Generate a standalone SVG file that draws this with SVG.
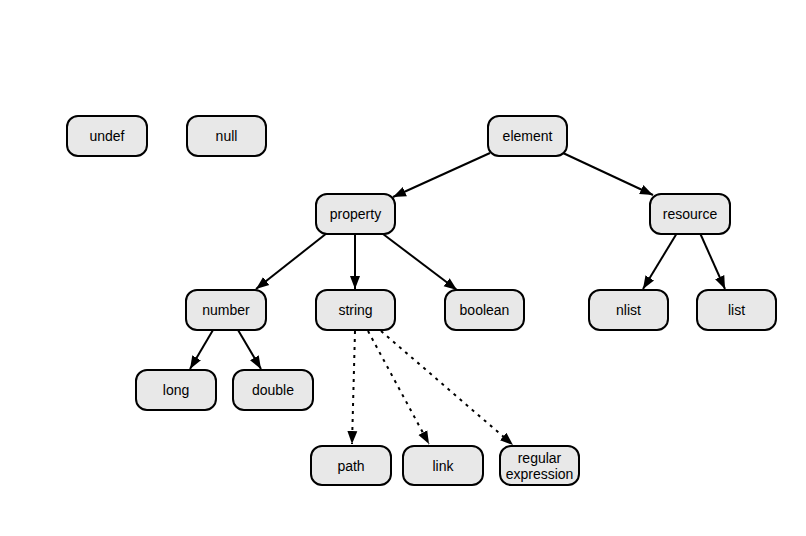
<svg xmlns="http://www.w3.org/2000/svg" width="806" height="536" viewBox="0 0 806 536">
<style>
.n rect{fill:#e8e8e8;stroke:#000;stroke-width:2}
.n text{font-family:"Liberation Sans",Arial,sans-serif;font-size:14px;fill:#000;text-anchor:middle}
.e line{stroke:#000;stroke-width:2;fill:none}
.e .d{stroke-dasharray:3,5}
</style>
<defs>
<marker id="ah" markerUnits="userSpaceOnUse" markerWidth="14" markerHeight="12" viewBox="0 0 14 12" refX="13" refY="6" orient="auto">
<path d="M0,1 L13,6 L0,11 z" fill="#000"/>
</marker>
</defs>
<rect width="806" height="536" fill="#fff"/>
<g class="e" marker-end="url(#ah)">
<line x1="490" y1="153" x2="393" y2="197" marker-end="url(#ah)"/>
<line x1="563" y1="153" x2="653" y2="195" marker-end="url(#ah)"/>
<line x1="327" y1="233" x2="256" y2="289" marker-end="url(#ah)"/>
<line x1="355" y1="234" x2="355" y2="289" marker-end="url(#ah)"/>
<line x1="383" y1="234" x2="457" y2="290" marker-end="url(#ah)"/>
<line x1="677" y1="233" x2="643" y2="289" marker-end="url(#ah)"/>
<line x1="700" y1="233" x2="725" y2="289" marker-end="url(#ah)"/>
<line x1="213" y1="330" x2="190" y2="369" marker-end="url(#ah)"/>
<line x1="238" y1="330" x2="261" y2="369" marker-end="url(#ah)"/>
<line class="d" x1="355" y1="331" x2="352" y2="444" marker-end="url(#ah)"/>
<line class="d" x1="368" y1="331" x2="429" y2="444" marker-end="url(#ah)"/>
<line class="d" x1="381" y1="331" x2="513" y2="445" marker-end="url(#ah)"/>
</g>
<g id="undef" class="n"><rect x="67" y="116" width="80" height="40" rx="11"/><text x="107" y="141">undef</text></g>
<g id="null" class="n"><rect x="187" y="116" width="79" height="40" rx="11"/><text x="226.5" y="141">null</text></g>
<g id="element" class="n"><rect x="488" y="116" width="79" height="40" rx="11"/><text x="527.5" y="141">element</text></g>
<g id="property" class="n"><rect x="316" y="194" width="79" height="40" rx="11"/><text x="355.5" y="219">property</text></g>
<g id="resource" class="n"><rect x="650" y="194" width="80" height="40" rx="11"/><text x="690" y="219">resource</text></g>
<g id="number" class="n"><rect x="186" y="290" width="80" height="40" rx="11"/><text x="226" y="315">number</text></g>
<g id="string" class="n"><rect x="316" y="290" width="79" height="40" rx="11"/><text x="355.5" y="315">string</text></g>
<g id="boolean" class="n"><rect x="445" y="290" width="79" height="40" rx="11"/><text x="484.5" y="315">boolean</text></g>
<g id="nlist" class="n"><rect x="589" y="290" width="79" height="40" rx="11"/><text x="628.5" y="315">nlist</text></g>
<g id="list" class="n"><rect x="697" y="290" width="79" height="40" rx="11"/><text x="736.5" y="315">list</text></g>
<g id="long" class="n"><rect x="136" y="370" width="80" height="40" rx="11"/><text x="176" y="395">long</text></g>
<g id="double" class="n"><rect x="233" y="370" width="80" height="40" rx="11"/><text x="273" y="395">double</text></g>
<g id="path" class="n"><rect x="311" y="446" width="80" height="39" rx="11"/><text x="351" y="471">path</text></g>
<g id="link" class="n"><rect x="403" y="446" width="80" height="39" rx="11"/><text x="443" y="471">link</text></g>
<g id="regex" class="n"><rect x="500" y="446" width="79" height="39" rx="11"/><text x="539.5" y="463">regular</text><text x="539.5" y="479">expression</text></g>
</svg>
